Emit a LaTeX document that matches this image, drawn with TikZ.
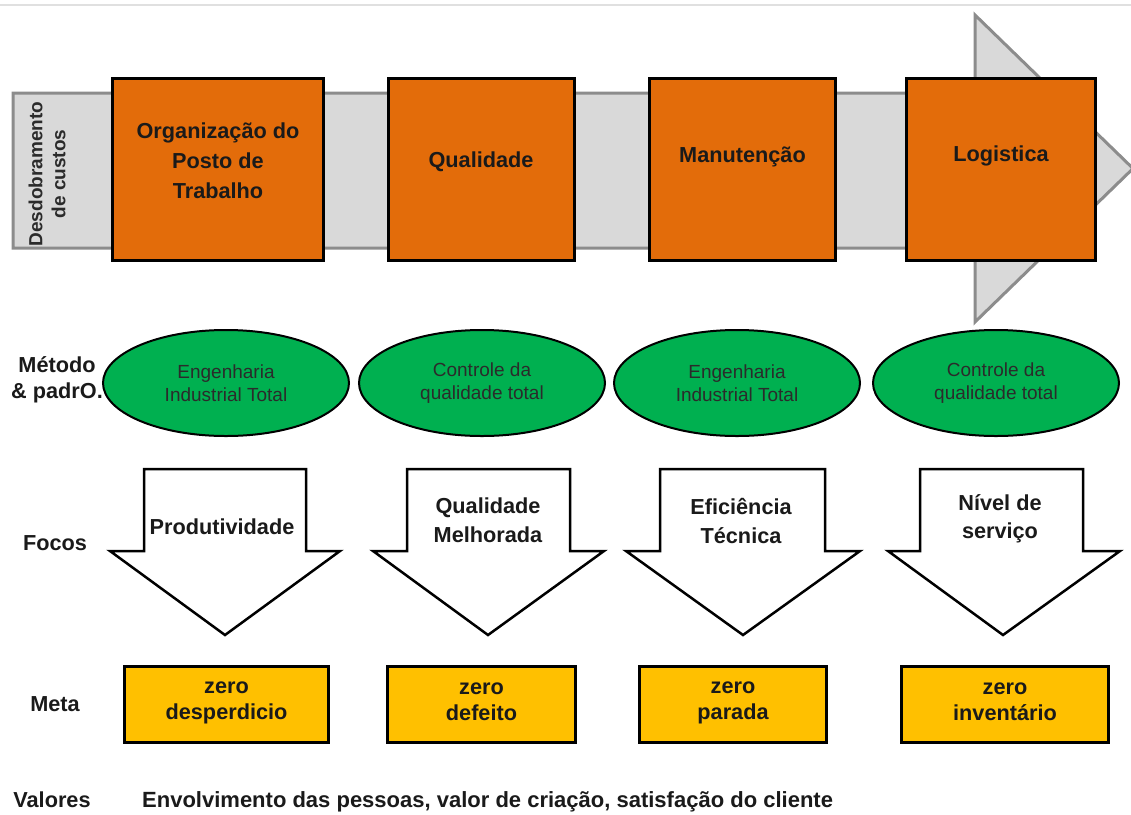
\documentclass[tikz,border=0pt]{standalone}
\usepackage{fontspec}
\setmainfont{Liberation Sans}
\usetikzlibrary{shapes.geometric}
\definecolor{bandgray}{HTML}{D9D9D9}
\definecolor{bandedge}{HTML}{8C8C8C}
\definecolor{rulegray}{HTML}{E0E0E0}
\definecolor{pillar}{HTML}{E36C0A}
\definecolor{method}{HTML}{00B050}
\definecolor{goal}{HTML}{FFC000}
\definecolor{ink}{HTML}{1A1A1A}
\definecolor{softink}{HTML}{2B2B2B}

\begin{document}
\begin{tikzpicture}[x=1pt,y=-1pt,
  boldtext/.style={font=\fontsize{21.7}{30}\selectfont\bfseries, text=ink, align=center, inner sep=0pt},
  pairtext/.style={boldtext, font=\fontsize{21.7}{26}\selectfont\bfseries},
  pillarbox/.style={draw=black, line width=3pt, fill=pillar, minimum width=#1, minimum height=182pt, inner sep=0pt},
  methodoval/.style={ellipse, draw=black, line width=2pt, fill=method, minimum width=246pt, minimum height=106pt,
    inner sep=0pt, align=center, text=softink, font=\fontsize{19}{23}\selectfont},
  focusarrow/.style={draw=black, line width=2.5pt, fill=white, line join=miter},
  goalbox/.style={draw=black, line width=3pt, fill=goal, minimum width=#1, minimum height=76pt, inner sep=0pt},
  rowlabel/.style={boldtext, font=\fontsize{21.7}{26}\selectfont\bfseries}
]
\useasboundingbox (0,0) rectangle (1131,814);
\fill[white] (0,0) rectangle (1131,814);

% thin rule along the top
\draw[rulegray, line width=1.5pt] (0,5) -- (1131,5);

% cost deployment band ending in a wide arrow head
\draw[bandedge, fill=bandgray, line width=3pt, line join=miter]
  (13,93) -- (975,93) -- (975,15) -- (1133,168.5) -- (975,322) -- (975,248) -- (13,248) -- cycle;
\node[rotate=90, align=center, font=\fontsize{19}{23}\selectfont\bfseries, text=softink, inner sep=0pt]
  (band) at (47,174) {Desdobramento\\de custos};

% pillars
\node[pillarbox=211pt] (p1) at (218,169.5) {};
\node[pillarbox=186pt] (p2) at (481,169.5) {};
\node[pillarbox=186pt] (p3) at (742.5,169.5) {};
\node[pillarbox=189pt] (p4) at (1001,169.5) {};
\node[boldtext] (p1t) at (218,161) {Organização do\\Posto de\\Trabalho};
\node[boldtext] (p2t) at (481,162) {Qualidade};
\node[boldtext] (p3t) at (742.5,157) {Manutenção};
\node[boldtext] (p4t) at (1001,156) {Logistica};

% methods and standards
\node[rowlabel] (lm) at (57,380) {Método\\\& padrO.};
\node[methodoval] (m1) at (226,383) {Engenharia\\Industrial Total};
\node[methodoval] (m2) at (482,383) {Controle da\\qualidade total};
\node[methodoval] (m3) at (737,383) {Engenharia\\Industrial Total};
\node[methodoval] (m4) at (996,383) {Controle da\\qualidade total};

% focus arrows
\node[rowlabel] (lf) at (55,543) {Focos};
\foreach \l/\r/\wl/\wr/\t in {144/306/110/340/225, 407/570/373/604/488, 660/825/626/860/743, 920/1083/888/1120/1003}{
  \draw[focusarrow] (\l,469) -- (\r,469) -- (\r,551) -- (\wr,551) -- (\t,635) -- (\wl,551) -- (\l,551) -- cycle;
}
\node[boldtext] (f1) at (222,527) {Produtividade};
\node[pairtext, font=\fontsize{21.7}{29}\selectfont\bfseries] (f2) at (488,520.5) {Qualidade\\Melhorada};
\node[pairtext, font=\fontsize{21.7}{29}\selectfont\bfseries] (f3) at (741,520.5) {Eficiência\\Técnica};
\node[pairtext, font=\fontsize{21.7}{28}\selectfont\bfseries] (f4) at (1000,519) {Nível de\\serviço};

% goals
\node[rowlabel] (lg) at (55,704) {Meta};
\node[goalbox=204pt] (g1) at (226.5,704.5) {};
\node[goalbox=188pt] (g2) at (481.5,704.5) {};
\node[goalbox=187pt] (g3) at (733,704.5) {};
\node[goalbox=207pt] (g4) at (1005,704.5) {};
\node[pairtext] (g1t) at (226.5,703) {zero\\desperdicio};
\node[pairtext] (g2t) at (481.5,702) {zero\\defeito};
\node[pairtext] (g3t) at (733,703) {zero\\parada};
\node[pairtext] (g4t) at (1005,702) {zero\\inventário};

% values
\node[rowlabel] (lv) at (52,800) {Valores};
\node[boldtext, anchor=west, font=\fontsize{22}{26}\selectfont\bfseries] (vals) at (142,802)
  {Envolvimento das pessoas, valor de criação, satisfação do cliente};
\end{tikzpicture}
\end{document}
